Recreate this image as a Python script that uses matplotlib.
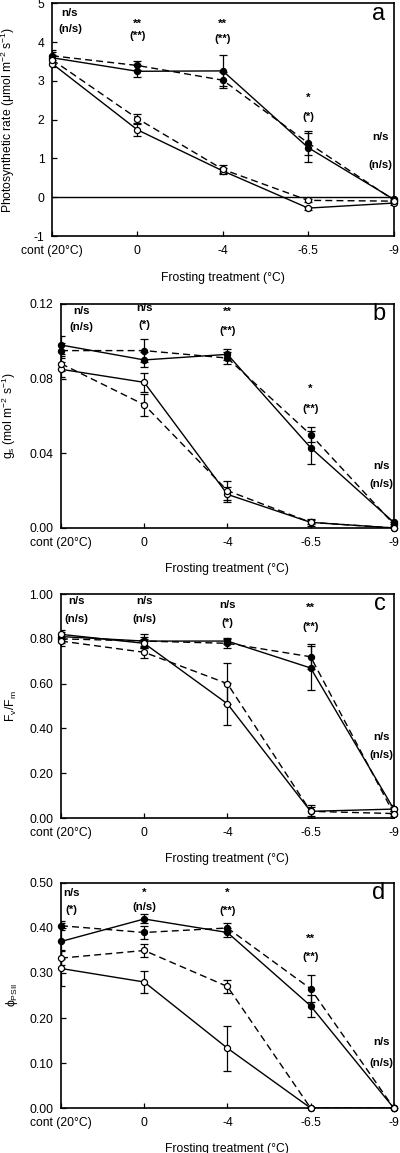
import matplotlib
matplotlib.use("Agg")
import matplotlib.pyplot as plt
import numpy as np

plt.rcParams["font.family"] = ["Liberation Sans", "DejaVu Sans"]
plt.rcParams["mathtext.fontset"] = "custom"
plt.rcParams["mathtext.rm"] = "Liberation Sans"
plt.rcParams["mathtext.it"] = "Liberation Sans:italic"
plt.rcParams["axes.unicode_minus"] = False

treatments = ["cont (20°C)", "0", "-4", "-6.5", "-9"]

# (a) photosynthetic rate
a_fill_solid = [3.60, 3.25, 3.26, 1.28, -0.05]
a_fill_dash = [3.65, 3.40, 3.02, 1.40, -0.07]
a_open_solid = [3.45, 1.74, 0.68, -0.28, -0.15]
a_open_dash = [3.55, 2.03, 0.72, -0.08, -0.10]
a_err_fill_solid = [0.15, 0.15, 0.40, 0.37, 0.05]
a_err_fill_dash = [0.15, 0.12, 0.20, 0.30, 0.05]
a_err_open_solid = [0.10, 0.15, 0.08, 0.04, 0.04]
a_err_open_dash = [0.12, 0.12, 0.10, 0.04, 0.04]
a_sig = ["n/s", "**", "**", "*", "n/s"]
a_sig_paren = ["(n/s)", "(**)", "(**)", "(*)", "(n/s)"]

# (b) stomatal conductance
b_fill_solid = [0.098, 0.090, 0.093, 0.043, 0.003]
b_fill_dash = [0.095, 0.095, 0.091, 0.050, 0.002]
b_open_solid = [0.085, 0.078, 0.018, 0.003, 0.000]
b_open_dash = [0.088, 0.066, 0.020, 0.003, 0.000]
b_err_fill_solid = [0.005, 0.004, 0.003, 0.009, 0.001]
b_err_fill_dash = [0.004, 0.006, 0.003, 0.004, 0.001]
b_err_open_solid = [0.004, 0.005, 0.004, 0.002, 0.0005]
b_err_open_dash = [0.004, 0.006, 0.005, 0.001, 0.0005]
b_sig = ["n/s", "n/s", "**", "*", "n/s"]
b_sig_paren = ["(n/s)", "(*)", "(**)", "(**)", "(n/s)"]

# (c) Fv/Fm
c_fill_solid = [0.81, 0.79, 0.79, 0.67, 0.04]
c_fill_dash = [0.80, 0.79, 0.78, 0.72, 0.02]
c_open_solid = [0.82, 0.78, 0.51, 0.03, 0.04]
c_open_dash = [0.79, 0.74, 0.60, 0.03, 0.02]
c_err_fill_solid = [0.02, 0.02, 0.015, 0.10, 0.02]
c_err_fill_dash = [0.02, 0.03, 0.02, 0.055, 0.02]
c_err_open_solid = [0.02, 0.02, 0.095, 0.03, 0.01]
c_err_open_dash = [0.02, 0.025, 0.09, 0.02, 0.01]
c_sig = ["n/s", "n/s", "n/s", "**", "n/s"]
c_sig_paren = ["(n/s)", "(n/s)", "(*)", "(**)", "(n/s)"]

# (d) phi PSII
d_fill_solid = [0.37, 0.42, 0.39, 0.227, 0.0]
d_fill_dash = [0.405, 0.39, 0.40, 0.265, 0.0]
d_open_solid = [0.31, 0.28, 0.133, 0.0, 0.0]
d_open_dash = [0.333, 0.35, 0.27, 0.0, 0.0]
d_err_fill_solid = [0.04, 0.01, 0.01, 0.025, 0.0]
d_err_fill_dash = [0.01, 0.015, 0.01, 0.03, 0.0]
d_err_open_solid = [0.04, 0.025, 0.05, 0.0, 0.0]
d_err_open_dash = [0.015, 0.015, 0.015, 0.0, 0.0]
d_sig = ["n/s", "*", "*", "**", "n/s"]
d_sig_paren = ["(*)", "(n/s)", "(**)", "(**)", "(n/s)"]


def draw_panel(ax, series, errs, ylim, yticks, yfmt, ylabel, letter,
               sig, sig_paren, sig_y, first_x, ylab_x):
    x = np.arange(len(treatments))
    styles = [("-", "black"), ("--", "black"), ("-", "white"), ("--", "white")]
    for vals, err, (ls, fc) in zip(series, errs, styles):
        ax.errorbar(x, vals, yerr=err, fmt="none", ecolor="black",
                    elinewidth=0.9, capsize=2.8, capthick=0.9, zorder=2)
        ax.plot(x, vals, ls=ls, color="black", lw=1.0,
                dashes=(5, 3) if ls == "--" else (None, None), zorder=3)
        ax.plot(x, vals, ls="none", marker="o", ms=4.4, mfc=fc, mec="black",
                mew=0.9, zorder=4, clip_on=False)
    ax.set_xlim(0, 4)
    ax.set_ylim(*ylim)
    ax.set_xticks(x)
    ax.set_xticklabels(treatments)
    ax.set_yticks(yticks)
    ax.set_yticklabels([yfmt.format(v) for v in yticks])
    ax.tick_params(direction="in", length=3.5, width=0.9, labelsize=8.7)
    ax.tick_params(axis="x", pad=6.5)
    ax.tick_params(axis="y", pad=5.5)
    for sp in ax.spines.values():
        sp.set_linewidth(1.2)
    ax.set_xlabel("Frosting treatment (°C)", fontsize=8.7)
    ax.xaxis.set_label_coords(0.5, -0.155)
    ax.set_ylabel(ylabel, fontsize=8.7, va="center")
    ax.yaxis.set_label_coords(ylab_x, 0.5)
    ax.text(0.975, 0.955, letter, transform=ax.transAxes, ha="right",
            va="center", fontsize=17)
    xs = [first_x, 1, 2, 3, 3.85]
    tr = ax.get_xaxis_transform()
    for xi, s1, s2, (y1, y2) in zip(xs, sig, sig_paren, sig_y):
        ax.text(xi, y1, s1, transform=tr, ha="center", va="center",
                fontsize=8.2, fontweight="bold")
        ax.text(xi, y2, s2, transform=tr, ha="center", va="center",
                fontsize=8.2, fontweight="bold")


fig = plt.figure(figsize=(4, 11.53), dpi=100)

ax_a = fig.add_axes([0.13, 0.7953, 0.854, 0.2017])
ax_a.axhline(0, color="black", lw=1.0, zorder=1)
draw_panel(ax_a,
           [a_fill_solid, a_fill_dash, a_open_solid, a_open_dash],
           [a_err_fill_solid, a_err_fill_dash, a_err_open_solid, a_err_open_dash],
           (-1, 5), [-1, 0, 1, 2, 3, 4, 5], "{:g}",
           "Photosynthetic rate (μmol m$^{-2}$ s$^{-1}$)", "a",
           a_sig, a_sig_paren,
           [(0.958, 0.89), (0.912, 0.86), (0.912, 0.847), (0.595, 0.513), (0.427, 0.305)],
           0.21, -0.128)

ax_b = fig.add_axes([0.1525, 0.5421, 0.832, 0.1943])
draw_panel(ax_b,
           [b_fill_solid, b_fill_dash, b_open_solid, b_open_dash],
           [b_err_fill_solid, b_err_fill_dash, b_err_open_solid, b_err_open_dash],
           (0, 0.12), [0, 0.04, 0.08, 0.12], "{:.2f}",
           "g$_{\\rm s}$ (mol m$^{-2}$ s$^{-1}$)", "b",
           b_sig, b_sig_paren,
           [(0.969, 0.898), (0.983, 0.908), (0.964, 0.879), (0.621, 0.532), (0.277, 0.197)],
           0.25, -0.156)

ax_c = fig.add_axes([0.1525, 0.2905, 0.832, 0.1943])
draw_panel(ax_c,
           [c_fill_solid, c_fill_dash, c_open_solid, c_open_dash],
           [c_err_fill_solid, c_err_fill_dash, c_err_open_solid, c_err_open_dash],
           (0, 1.0), [0, 0.2, 0.4, 0.6, 0.8, 1.0], "{:.2f}",
           "F$_{\\rm v}$/F$_{\\rm m}$", "c",
           c_sig, c_sig_paren,
           [(0.969, 0.888), (0.969, 0.888), (0.951, 0.871), (0.9375, 0.853), (0.362, 0.281)],
           0.19, -0.15)

ax_d = fig.add_axes([0.1525, 0.039, 0.832, 0.1952])
draw_panel(ax_d,
           [d_fill_solid, d_fill_dash, d_open_solid, d_open_dash],
           [d_err_fill_solid, d_err_fill_dash, d_err_open_solid, d_err_open_dash],
           (0, 0.5), [0, 0.1, 0.2, 0.3, 0.4, 0.5], "{:.2f}",
           "ϕ$_{\\rm PSII}$", "d",
           d_sig, d_sig_paren,
           [(0.956, 0.88), (0.956, 0.894), (0.956, 0.876), (0.752, 0.672), (0.294, 0.2)],
           0.13, -0.148)

fig.savefig("out.png", dpi=100)
